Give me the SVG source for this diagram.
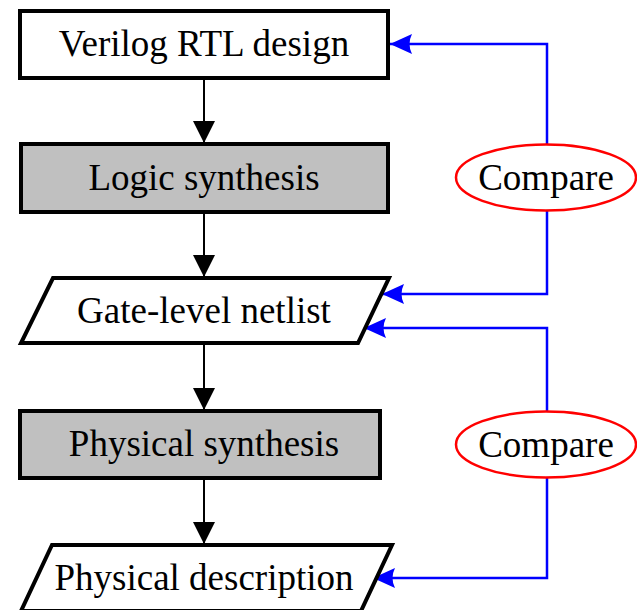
<svg xmlns="http://www.w3.org/2000/svg" width="637" height="610" viewBox="0 0 637 610">
<style>
.box{stroke:#000;stroke-width:4;stroke-linejoin:miter}
.w{fill:#fff}
.g{fill:#c0c0c0}
.t{font-family:"Liberation Serif","Times New Roman",serif;font-size:37px;fill:#000;text-anchor:middle}
.blk{stroke:#000;stroke-width:2;fill:none}
.blu{stroke:#0000ff;stroke-width:2.5;fill:none}
.cmp{fill:#fff;stroke:#ff0000;stroke-width:2.5}
</style>
<defs>
<marker id="ah" markerUnits="userSpaceOnUse" markerWidth="24" markerHeight="24" viewBox="-22 -12 24 24" refX="0" refY="0" orient="auto">
<path d="M0,0 L-22,-11 L-22,11 Z" fill="#000"/>
</marker>
<marker id="bh" markerUnits="userSpaceOnUse" markerWidth="24" markerHeight="24" viewBox="-22 -12 24 24" refX="0" refY="0" orient="auto">
<path d="M0,0 L-22,-10 Q-17,0 -22,10 Z" fill="#0000ff"/>
</marker>
</defs>
<rect width="637" height="610" fill="#fff"/>
<g id="connectors">
<line class="blk" x1="204" y1="78" x2="204" y2="143" marker-end="url(#ah)"/>
<line class="blk" x1="204" y1="212" x2="204" y2="277" marker-end="url(#ah)"/>
<line class="blk" x1="204" y1="343" x2="204" y2="410" marker-end="url(#ah)"/>
<line class="blk" x1="204" y1="478" x2="204" y2="544" marker-end="url(#ah)"/>
<polyline class="blu" points="547,144 547,44 390,44" marker-end="url(#bh)"/>
<polyline class="blu" points="547,211 547,294 382,294" marker-end="url(#bh)"/>
<polyline class="blu" points="547,411 547,328 364,328" marker-end="url(#bh)"/>
<polyline class="blu" points="547,478 547,578 373,578" marker-end="url(#bh)"/>
</g>
<g id="verilog">
<rect class="box w" x="20" y="11" width="368" height="67"/>
<text class="t" x="204" y="56">Verilog RTL design</text>
</g>
<g id="logic">
<rect class="box g" x="21" y="144" width="367" height="68"/>
<text class="t" x="204" y="190">Logic synthesis</text>
</g>
<g id="netlist">
<polygon class="box w" points="53,278 389,278 358,343 21,343"/>
<text class="t" x="204" y="323">Gate-level netlist</text>
</g>
<g id="physyn">
<rect class="box g" x="20" y="411" width="360" height="67"/>
<text class="t" x="204" y="456">Physical synthesis</text>
</g>
<g id="phydesc">
<polygon class="box w" points="52,545 392,545 361,611 21,611"/>
<text class="t" x="204" y="590">Physical description</text>
</g>
<g id="compare1">
<ellipse class="cmp" cx="546" cy="177.5" rx="90" ry="33"/>
<text class="t" x="546" y="190">Compare</text>
</g>
<g id="compare2">
<ellipse class="cmp" cx="546" cy="444.5" rx="90" ry="33"/>
<text class="t" x="546" y="457">Compare</text>
</g>
</svg>
